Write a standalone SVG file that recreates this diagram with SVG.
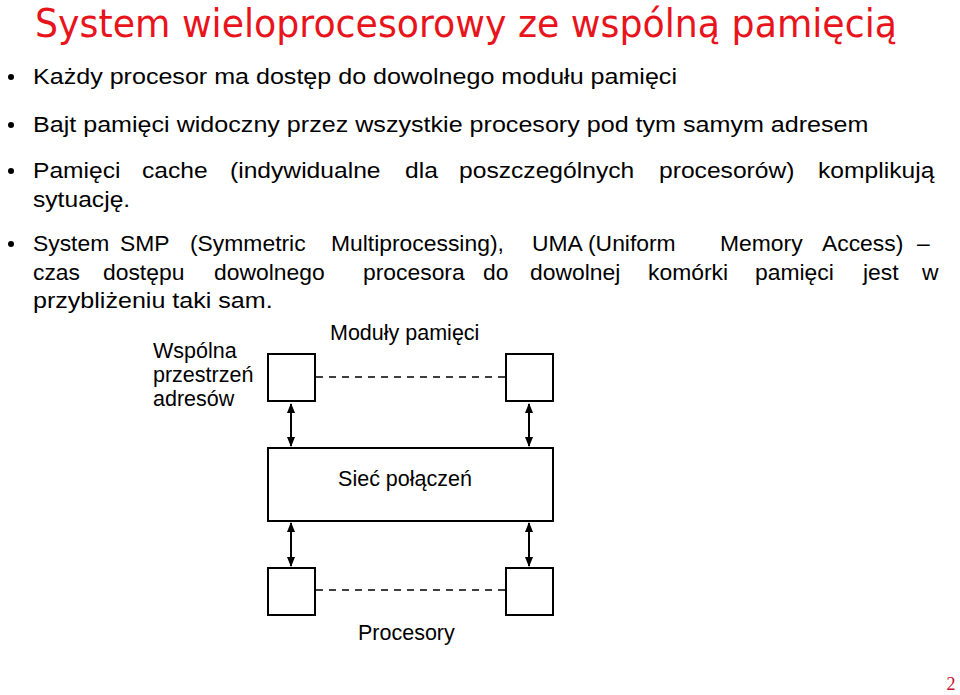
<svg xmlns="http://www.w3.org/2000/svg" width="960" height="695" viewBox="0 0 960 695">
<defs>
<style>
.t{font-family:"Liberation Sans",Arial,sans-serif;font-size:22px;fill:#000}
.d{font-family:"Liberation Sans",Arial,sans-serif;font-size:21.5px;fill:#000}
.title{font-family:"DejaVu Sans Condensed","DejaVu Sans",sans-serif;font-size:39px;fill:#e8141c}
.box{fill:#fff;stroke:#000;stroke-width:2}
.dash{stroke:#000;stroke-width:1.5;stroke-dasharray:7,6;fill:none}
.arr{stroke:#000;stroke-width:2;fill:none;marker-start:url(#ah);marker-end:url(#ah)}
</style>
<marker id="ah" viewBox="0 0 10 10" refX="9" refY="5" markerWidth="5" markerHeight="5" orient="auto-start-reverse">
<path d="M0,1 L10,5 L0,9 z" fill="#000"/>
</marker>
</defs>
<rect width="960" height="695" fill="#fff"/>
<text class="title" x="35" y="37" textLength="862" lengthAdjust="spacingAndGlyphs">System wieloprocesorowy ze wspólną pamięcią</text>
<g id="bullets">
<circle cx="11" cy="77" r="3" fill="#000"/>
<circle cx="11" cy="125" r="3" fill="#000"/>
<circle cx="11" cy="171" r="3" fill="#000"/>
<circle cx="11" cy="244" r="3" fill="#000"/>
</g>
<g id="body" transform="scale(1.12,1)">
<text class="t" x="29.46" y="84" textLength="575" lengthAdjust="spacingAndGlyphs">Każdy procesor ma dostęp do dowolnego modułu pamięci</text>
<text class="t" x="29.46" y="132" textLength="746" lengthAdjust="spacingAndGlyphs">Bajt pamięci widoczny przez wszystkie procesory pod tym samym adresem</text>
<text class="t" y="178"><tspan x="29.46">Pamięci</tspan><tspan x="126.79">cache</tspan><tspan x="205.36">(indywidualne</tspan><tspan x="361.61">dla</tspan><tspan x="409.82">poszczególnych</tspan><tspan x="588.39">procesorów)</tspan><tspan x="730.36">komplikują</tspan></text>
<text class="t" x="29.46" y="207">sytuację.</text>
<text class="t" x="29.46" y="308" textLength="214" lengthAdjust="spacingAndGlyphs">przybliżeniu taki sam.</text>
</g>
<g id="body2" transform="scale(1.04,1)">
<text class="t" y="251"><tspan x="31.73">System</tspan><tspan x="115.38">SMP</tspan><tspan x="182.69">(Symmetric</tspan><tspan x="318.27">Multiprocessing),</tspan><tspan x="511.54">UMA</tspan><tspan x="565.38">(Uniform</tspan><tspan x="692.31">Memory</tspan><tspan x="790.38">Access)</tspan><tspan x="881.73">–</tspan></text>
<text class="t" y="280"><tspan x="31.73">czas</tspan><tspan x="99.04">dostępu</tspan><tspan x="205.77">dowolnego</tspan><tspan x="349.04">procesora</tspan><tspan x="464.42">do</tspan><tspan x="509.62">dowolnej</tspan><tspan x="623.08">komórki</tspan><tspan x="725.96">pamięci</tspan><tspan x="829.81">jest</tspan><tspan x="886.54">w</tspan></text>
</g>
<g id="labels">
<text class="d" x="330" y="340">Moduły pamięci</text>
<text class="d" x="153" y="358">Wspólna</text>
<text class="d" x="153" y="382">przestrzeń</text>
<text class="d" x="153" y="406">adresów</text>
</g>
<g id="connectors">
<line class="dash" x1="316" y1="377" x2="506" y2="377"/>
<line class="dash" x1="316" y1="590" x2="506" y2="590"/>
<line class="arr" x1="291" y1="404" x2="291" y2="446"/>
<line class="arr" x1="529" y1="404" x2="529" y2="446"/>
<line class="arr" x1="291" y1="523" x2="291" y2="566"/>
<line class="arr" x1="529" y1="523" x2="529" y2="566"/>
</g>
<g id="mem1"><rect class="box" x="268" y="354" width="47" height="47"/></g>
<g id="mem2"><rect class="box" x="506" y="354" width="47" height="47"/></g>
<g id="network"><rect class="box" x="268" y="448" width="285" height="73"/>
<text class="d" x="405" y="486" text-anchor="middle">Sieć połączeń</text></g>
<g id="proc1"><rect class="box" x="268" y="568" width="47" height="47"/></g>
<g id="proc2"><rect class="box" x="506" y="568" width="47" height="47"/></g>
<text class="d" x="358" y="640">Procesory</text>
<text x="951" y="690" font-family="Liberation Serif,serif" font-size="18" fill="#c8102e" text-anchor="middle">2</text>
</svg>
